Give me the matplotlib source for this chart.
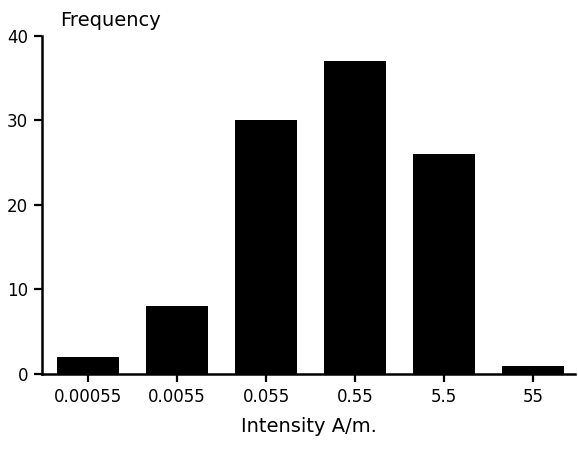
import matplotlib
matplotlib.use("Agg")
import matplotlib.pyplot as plt

categories = ["0.00055", "0.0055", "0.055", "0.55", "5.5", "55"]
frequencies = [2, 8, 30, 37, 26, 1]
yticks = [0, 10, 20, 30, 40]

plt.rcParams['font.family'] = ['DejaVu Sans']
fig = plt.figure(figsize=(5.78, 4.57), dpi=100)
ax = fig.add_axes([0.0727, 0.1816, 0.922, 0.740])
x = list(range(len(categories)))
ax.bar(x, frequencies, width=0.69, color="black")
ax.set_xlim(-0.517, 5.47)
ax.set_ylim(0, 40)
ax.set_xticks(x)
ax.set_xticklabels(categories, fontsize=12)
ax.set_yticks(yticks)
ax.set_yticklabels([str(v) for v in yticks], fontsize=12)
for s in ["top", "right"]:
    ax.spines[s].set_visible(False)
for s in ["left", "bottom"]:
    ax.spines[s].set_linewidth(1.8)
ax.tick_params(axis="both", direction="out", length=6, width=1.6, pad=4)
ax.set_xlabel("Intensity A/m.", fontsize=14, labelpad=8)
fig.text(0.104, 0.935, "Frequency", fontsize=14, ha="left", va="bottom")
fig.savefig("out.png", dpi=100)
